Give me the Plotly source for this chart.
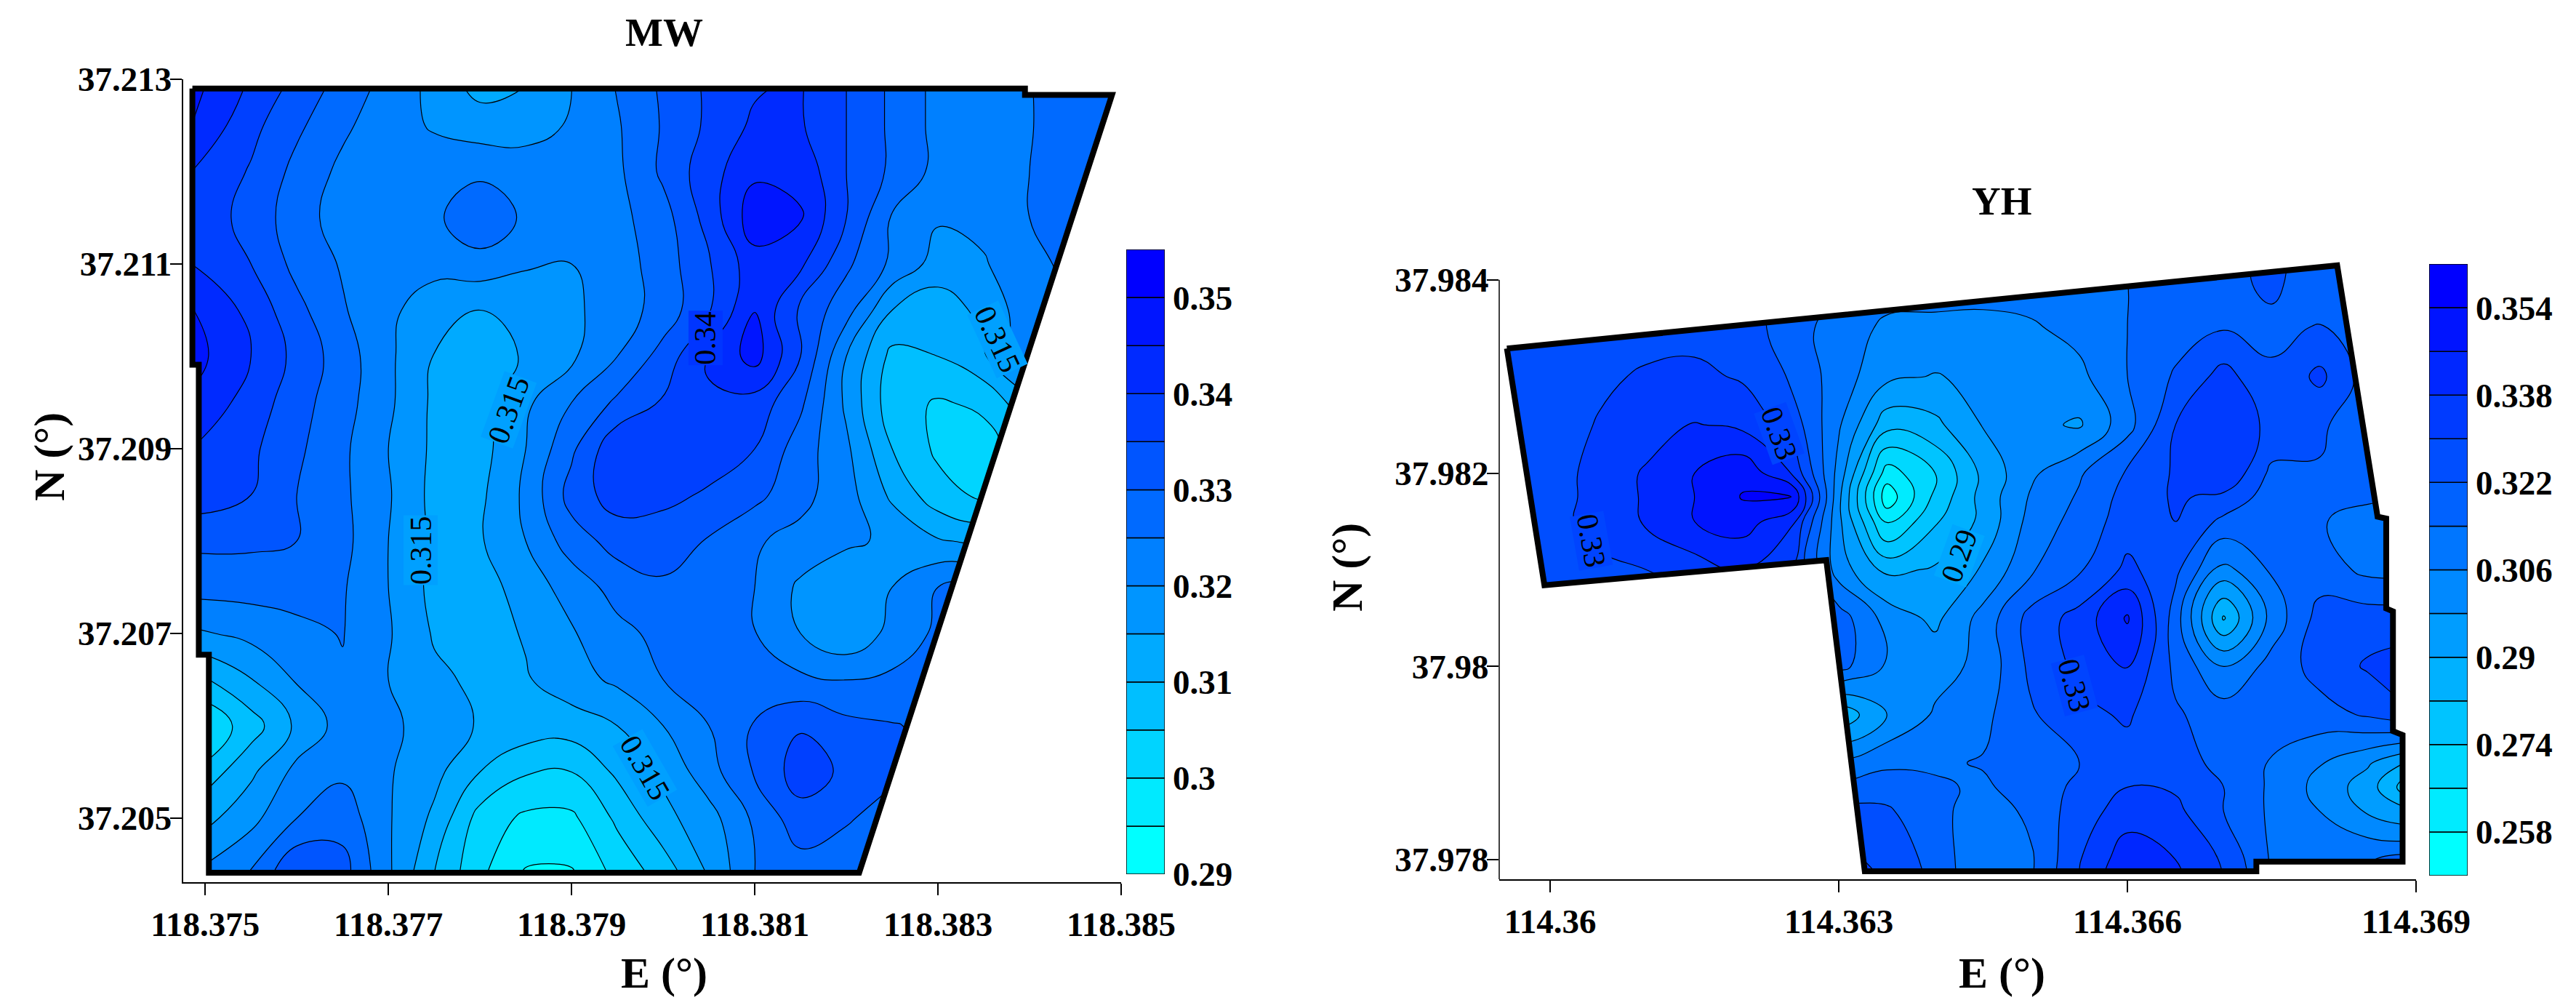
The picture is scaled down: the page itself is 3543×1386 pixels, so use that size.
import numpy as np
import plotly.graph_objects as go

# MW field, rows run north to south, values in 1e-3
mw_lon = [118.37485, 118.3755, 118.376, 118.3765, 118.377, 118.3775, 118.378, 118.3785, 118.379, 118.3795, 118.38,
          118.3805, 118.381, 118.3815, 118.382, 118.3825, 118.383, 118.3835, 118.384, 118.3845, 118.385]
mw_lat = [37.2130, 37.2125, 37.2120, 37.2115, 37.2110, 37.2105, 37.2100, 37.2095, 37.2090,
          37.2085, 37.2080, 37.2075, 37.2070, 37.2065, 37.2060, 37.2055, 37.2050, 37.2044]
mw_z = [
    [347, 339.5, 334, 328.5, 323.5, 318.5, 312.5, 314.5, 320, 325.5, 331, 336, 339, 340.5, 335, 329, 323.5, 323.5, 324.8, 328, 329],
    [345, 336.5, 331, 326, 322, 319.5, 317.5, 318, 320.5, 324.5, 330.5, 336, 341, 340.5, 335, 329, 323.5, 322.5, 324.8, 327, 328],
    [340, 334.5, 328.5, 323.8, 322.5, 322.5, 323.9, 322.5, 322.5, 324, 331, 338, 344, 343.5, 335, 329, 323.5, 322, 325, 327, 327],
    [338, 333.5, 327, 323, 322, 323.9, 329, 324, 322.5, 323.5, 328, 337, 348, 345.5, 335, 324.5, 320.5, 321.5, 325, 326, 326],
    [340, 335, 328.5, 324.5, 322, 321.5, 323, 320.5, 320, 322.5, 327.5, 334.5, 343, 341, 331, 324, 318, 319.5, 324, 326, 326],
    [345.5, 338.5, 331.5, 325.5, 321, 317.5, 315, 317, 319, 322.5, 327, 334.5, 344.9, 334, 327, 315, 312, 316.5, 323, 325, 325],
    [347, 340, 333.5, 327.5, 321, 314.8, 312.5, 315.5, 319, 325, 332, 340.5, 347, 335, 320, 308.5, 310, 314.5, 323, 325, 325],
    [344, 338, 332, 327, 321, 314, 313, 319, 325, 331, 335.5, 339.5, 338, 331, 319, 307, 304.5, 306, 314, 320, 320],
    [340, 336, 331, 326, 320, 314, 313, 320, 329, 339, 337.5, 337, 335, 327.5, 321, 310, 304, 303, 308, 312, 312],
    [338, 335, 330, 326, 320.5, 313.5, 314, 321, 332, 337.5, 336, 334.5, 331.5, 326.5, 322, 314, 307, 304, 308, 312, 312],
    [331, 331, 330, 326.5, 320, 314, 314.5, 320, 327.5, 332, 333, 329.5, 325.5, 323.5, 321, 319, 315.5, 314, 316, 318, 318],
    [327, 327, 326.5, 325.5, 320, 313.5, 312.5, 317.5, 322, 327, 329, 327.5, 325, 319, 315.5, 320, 325, 326, 326, 326, 326],
    [319, 321.5, 324, 325.2, 320.5, 314.5, 312.5, 315.5, 319.5, 323.5, 326.5, 326, 325.2, 320, 316, 321.5, 326, 327, 327, 327, 327],
    [308, 314.8, 320.5, 324.5, 320, 316, 314, 314.5, 318, 321, 325, 325.5, 326, 326, 324.8, 326, 328, 328, 328, 328, 328],
    [299.5, 307.5, 316, 322, 321, 318, 314.5, 313, 312.5, 315, 320, 325, 330.5, 334.5, 331.5, 330.3, 329, 329, 329, 329, 329],
    [305, 314, 321.5, 324, 320.5, 316.5, 310, 305.5, 305, 311, 316, 323, 330.5, 337.5, 334, 331, 329, 329, 329, 329, 329],
    [312, 318.5, 325, 328, 320.5, 314, 303, 299, 299, 306, 313.5, 318, 326, 333, 330.5, 328, 328, 328, 328, 328, 328],
    [320, 325.3, 335, 332, 320.8, 310, 301, 294.5, 294.5, 301.5, 307, 315.5, 325, 327.5, 327, 327, 327, 327, 327, 327, 327],
]
mw_border_lon = [118.37486, 118.38395, 118.38395, 118.38490, 118.38214, 118.37504, 118.37504, 118.37493, 118.37493, 118.37486, 118.37486]
mw_border_lat = [37.21290, 37.21290, 37.21283, 37.21283, 37.20441, 37.20441, 37.20677, 37.20677, 37.20991, 37.20991, 37.21290]
mw_xticks = [118.375, 118.377, 118.379, 118.381, 118.383, 118.385]
mw_xlabels = ["118.375", "118.377", "118.379", "118.381", "118.383", "118.385"]
mw_yticks = [37.205, 37.207, 37.209, 37.211, 37.213]
mw_ylabels = ["37.205", "37.207", "37.209", "37.211", "37.213"]
mw_levels = [0.29, 0.295, 0.30, 0.305, 0.31, 0.315, 0.32, 0.325, 0.33, 0.335, 0.34, 0.345, 0.35]
mw_cbticks = [0.29, 0.30, 0.31, 0.32, 0.33, 0.34, 0.35]
mw_cblabels = ["0.29", "0.3", "0.31", "0.32", "0.33", "0.34", "0.35"]

# YH field
yh_lon = [114.3595, 114.36, 114.3605, 114.361, 114.3615, 114.362, 114.3625, 114.363, 114.3635, 114.364,
          114.3645, 114.365, 114.3655, 114.366, 114.3665, 114.367, 114.3675, 114.368, 114.3685, 114.369]
yh_lat = [37.9844, 37.9840, 37.9835, 37.9830, 37.9825, 37.9820, 37.98175, 37.9815, 37.9810,
          37.9805, 37.9800, 37.9795, 37.9790, 37.97875, 37.9785, 37.9780, 37.9777]
yh_z = [
    [325, 325, 325, 325, 325, 325, 320, 316, 310, 310, 310, 310, 311, 315, 318, 319, 323, 319, 314, 314],
    [325, 325, 325, 325, 325, 325, 320, 316, 310, 310, 310, 310, 311, 314, 318, 320, 323.5, 318, 312, 312],
    [326, 326, 326, 327, 327, 326, 318, 310, 304.5, 304, 303.5, 305, 308.5, 314, 318.5, 321.5, 320.5, 322.5, 319, 319],
    [326, 327, 328.5, 331, 332, 329, 321, 310, 300, 297.5, 300, 303.5, 304, 314, 323, 333, 323, 332, 318, 318],
    [324, 326, 330.5, 334, 338.5, 336, 327, 307, 285, 288, 298.5, 300, 297, 311, 330, 333, 329, 323, 318, 318],
    [322, 326, 333, 339, 346, 352, 338, 303, 262, 274, 292, 304.5, 313, 323, 331, 338, 320, 321.5, 318, 318],
    [322, 326, 333, 339, 346, 354.5, 355.5, 300, 253, 276, 293, 307, 315, 325, 331, 328, 318, 318, 316, 316],
    [322, 327, 333, 339, 346, 350, 340, 300, 264, 281, 292, 309, 317, 326, 330, 320, 316.5, 315, 309, 309],
    [322, 325, 328, 330, 334, 338, 330, 302, 288, 291, 299, 313, 321, 332, 324, 303, 315, 318, 312, 312],
    [325, 325, 325, 325, 325, 325, 328, 318, 303, 296, 309, 325, 333, 347, 318, 281, 309, 325, 326, 326],
    [325, 325, 325, 325, 325, 325, 322, 317, 305, 303, 308, 324, 332, 338.5, 320, 306, 317, 325, 331, 334],
    [320, 320, 320, 320, 320, 320, 300, 284, 298, 307, 312, 321, 328, 331, 323, 318, 322, 319, 323, 330],
    [320, 320, 320, 320, 320, 320, 312, 308, 312, 313, 314.5, 317, 322, 327, 325, 320, 313, 306.5, 299, 287],
    [320, 320, 320, 320, 320, 320, 318, 316, 319, 315, 313, 317, 324, 330, 329, 322, 312.5, 303.5, 294, 274],
    [325, 325, 325, 325, 325, 325, 325, 325, 323, 317, 309, 316, 326, 334, 332, 322, 312.5, 306, 297, 290],
    [332, 332, 332, 332, 332, 332, 332, 332, 328, 319, 307, 313, 329.5, 343, 338, 329, 313, 312.5, 313.5, 317],
    [335, 335, 335, 335, 335, 335, 335, 335, 330, 320, 307, 314, 331, 347, 340, 330, 314, 313, 315, 320],
]
yh_border_lon = [114.35955, 114.36818, 114.3686, 114.36869, 114.36869, 114.36876, 114.36876, 114.36886, 114.36886,
                 114.36734, 114.36734, 114.36327, 114.36287, 114.35994, 114.35955]
yh_border_lat = [37.98329, 37.98415, 37.98155, 37.98153, 37.98060, 37.98057, 37.97933, 37.97929, 37.97798,
                 37.97798, 37.97788, 37.97788, 37.98110, 37.98084, 37.98329]
yh_xticks = [114.36, 114.363, 114.366, 114.369]
yh_xlabels = ["114.36", "114.363", "114.366", "114.369"]
yh_yticks = [37.978, 37.98, 37.982, 37.984]
yh_ylabels = ["37.978", "37.98", "37.982", "37.984"]
yh_levels = [0.25, 0.258, 0.266, 0.274, 0.282, 0.29, 0.298, 0.306, 0.314, 0.322, 0.33, 0.338, 0.346, 0.354]
yh_cbticks = [0.258, 0.274, 0.29, 0.306, 0.322, 0.338, 0.354]
yh_cblabels = ["0.258", "0.274", "0.29", "0.306", "0.322", "0.338", "0.354"]

W, H = 3543, 1386
SERIF = "Liberation Serif"
cyan_blue = [[0, "rgb(0,255,255)"], [1, "rgb(0,0,255)"]]
tick_font = dict(family=SERIF, size=47, color="black", weight=700)


def contour(lon, lat, z, levels, xa, ya):
    step = levels[1] - levels[0]
    return go.Contour(
        x=lon, y=lat[::-1], z=(np.array(z) / 1000)[::-1], xaxis=xa, yaxis=ya,
        colorscale=cyan_blue, hoverinfo="skip", showscale=False,
        contours=dict(start=levels[1], end=levels[-1], size=step, coloring="fill"),
        line=dict(color="black", width=1.2, smoothing=1.3))


def level_bar(levels, xa, ya):
    # the colour key, one stacked box per contour band
    n = len(levels)
    step = levels[1] - levels[0]
    colors = [f"rgb(0,{round(255 * (1 - i / (n - 1)))},255)" for i in range(n)]
    return go.Bar(x=[0] * n, y=[step] * n, base=levels, width=1, xaxis=xa, yaxis=ya, hoverinfo="skip",
                  marker=dict(color=colors, line=dict(color="black", width=1.5)), showlegend=False)


def mask(lon, lat, xr, yr, xa, ya):
    # white outside the field boundary, outer ring runs past the axes so no edge shows
    pad_x = (xr[1] - xr[0]) * 0.05
    pad_y = (yr[1] - yr[0]) * 0.05
    x0, x1 = xr[0] - pad_x, xr[1] + pad_x
    y0, y1 = yr[0] - pad_y, yr[1] + pad_y
    mx = [x0, x1, x1, x0, x0] + lon + [x0]
    my = [y0, y0, y1, y1, y0] + lat + [y0]
    return go.Scatter(x=mx, y=my, xaxis=xa, yaxis=ya, mode="lines", fill="toself", fillcolor="white",
                      line=dict(width=0, color="white"), hoverinfo="skip", showlegend=False)


def border(lon, lat, xa, ya):
    return go.Scatter(x=lon, y=lat, xaxis=xa, yaxis=ya, mode="lines", line=dict(color="black", width=8),
                      cliponaxis=False, hoverinfo="skip", showlegend=False)


mw_xr = [118.374756, 118.385]
mw_yr = [37.204307, 37.213]
yh_xr = [114.35947, 114.369]
# the field pokes above the 37.984 tick, so the range goes higher and the left spine is drawn up to the tick only
yh_yr = [37.977797, 37.9843]

fig = go.Figure()
fig.add_trace(contour(mw_lon, mw_lat, mw_z, mw_levels, "x", "y"))
fig.add_trace(mask(mw_border_lon, mw_border_lat, mw_xr, mw_yr, "x", "y"))
fig.add_trace(border(mw_border_lon, mw_border_lat, "x", "y"))
fig.add_trace(contour(yh_lon, yh_lat, yh_z, yh_levels, "x2", "y2"))
fig.add_trace(mask(yh_border_lon, yh_border_lat, yh_xr, yh_yr, "x2", "y2"))
fig.add_trace(border(yh_border_lon, yh_border_lat, "x2", "y2"))
fig.add_trace(level_bar(mw_levels, "x3", "y3"))
fig.add_trace(level_bar(yh_levels, "x4", "y4"))

axis_style = dict(showgrid=False, zeroline=False, showline=True, linecolor="black", linewidth=1.5,
                  ticks="outside", ticklen=16, tickwidth=1.5, tickcolor="black", tickfont=tick_font,
                  tickmode="array")
bar_x = dict(range=[-0.5, 0.5], showgrid=False, zeroline=False, showline=False, showticklabels=False, ticks="")
bar_y = dict(showgrid=False, zeroline=False, showline=False, side="right", ticks="", tickfont=tick_font,
             tickmode="array", ticklabelstandoff=10)
yh_yaxis_style = {**axis_style, "showline": False}
fig.update_layout(
    width=W, height=H, margin=dict(l=0, r=0, t=0, b=0, autoexpand=False),
    paper_bgcolor="white", plot_bgcolor="white", showlegend=False, barmode="overlay",
    xaxis=dict(domain=[251.5 / W, 1542 / W], range=mw_xr, tickvals=mw_xticks, ticktext=mw_xlabels, anchor="y", **axis_style),
    yaxis=dict(domain=[(H - 1213) / H, (H - 109) / H], range=mw_yr, tickvals=mw_yticks, ticktext=mw_ylabels, anchor="x",
               ticklabelstandoff=-12, **axis_style),
    xaxis2=dict(domain=[2062 / W, 3323 / W], range=yh_xr, tickvals=yh_xticks, ticktext=yh_xlabels, anchor="y2", **axis_style),
    yaxis2=dict(domain=[(H - 1209) / H, (H - 345) / H], range=yh_yr, tickvals=yh_yticks, ticktext=yh_ylabels, anchor="x2",
                ticklabelstandoff=-12, **yh_yaxis_style),
    xaxis3=dict(domain=[1549 / W, 1602 / W], anchor="y3", **bar_x),
    yaxis3=dict(domain=[(H - 1202) / H, (H - 343) / H], range=[0.29, 0.355], tickvals=mw_cbticks, ticktext=mw_cblabels, anchor="x3", **bar_y),
    xaxis4=dict(domain=[3341 / W, 3394 / W], anchor="y4", **bar_x),
    yaxis4=dict(domain=[(H - 1204) / H, (H - 363) / H], range=[0.25, 0.362], tickvals=yh_cbticks, ticktext=yh_cblabels, anchor="x4", **bar_y),
)
fig.add_shape(type="line", xref="x2 domain", yref="y2", x0=0, x1=0, y0=yh_yr[0], y1=yh_yticks[-1],
              line=dict(color="black", width=1.5))


def paper_text(text, px, py, size, angle=0):
    fig.add_annotation(text=text, x=px / W, y=(H - py) / H, xref="paper", yref="paper", showarrow=False,
                       xanchor="center", yanchor="middle", textangle=angle,
                       font=dict(family=SERIF, size=size, color="black", weight=700))


paper_text("MW", 913, 45, 55)
paper_text("YH", 2753, 276, 55)
paper_text("E (°)", 913, 1338, 60)
paper_text("E (°)", 2753, 1338, 60)
paper_text("N (°)", 68, 628, 60, -90)
paper_text("N (°)", 1853, 780, 60, -90)


def line_label(text, lon, lat, angle, fill, xa, ya):
    fig.add_annotation(text=text, x=lon, y=lat, xref=xa, yref=ya, showarrow=False, textangle=angle,
                       bgcolor=fill, borderpad=0, font=dict(family=SERIF, size=42, color="black"))


line_label("0.315", 118.37735, 37.2079, -90, "rgb(0,160,255)", "x", "y")
line_label("0.315", 118.37831, 37.20942, -70, "rgb(0,160,255)", "x", "y")
line_label("0.315", 118.3798, 37.20554, 60, "rgb(0,160,255)", "x", "y")
line_label("0.315", 118.38365, 37.21018, 65, "rgb(0,160,255)", "x", "y")
line_label("0.34", 118.38046, 37.2102, -90, "rgb(0,53,255)", "x", "y")
line_label("0.33", 114.36238, 37.98241, 70, "rgb(0,68,255)", "x2", "y2")
line_label("0.33", 114.36043, 37.9813, 80, "rgb(0,68,255)", "x2", "y2")
line_label("0.29", 114.36425, 37.98115, -70, "rgb(0,167,255)", "x2", "y2")
line_label("0.33", 114.36545, 37.9798, 75, "rgb(0,68,255)", "x2", "y2")

# the page has a default 8px body margin, drop it so the figure fills the window
fig.write_html("out.html", config={"displayModeBar": False}, post_script="document.body.style.margin = '0';")
